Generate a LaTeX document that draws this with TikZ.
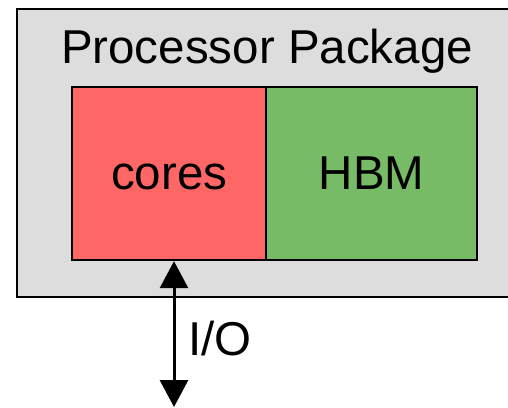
\documentclass[tikz,border=0pt]{standalone}
\usepackage{fontspec}
\setmainfont{Liberation Sans}
\usetikzlibrary{arrows.meta}
\definecolor{pkggray}{HTML}{DDDDDD}
\definecolor{corered}{HTML}{FF6666}
\definecolor{hbmgreen}{HTML}{77BB66}
\tikzset{
  bigtext/.style={font=\fontsize{47.5}{54}\selectfont, inner sep=0pt},
  block/.style={draw=black, line width=2.2pt, inner sep=0pt, anchor=north west},
  ioarrow/.style={line width=3pt, {Triangle[width=28pt,length=27pt]}-{Triangle[width=28pt,length=27pt]}}
}
\begin{document}
\begin{tikzpicture}[x=1pt,y=-1pt]
  \useasboundingbox (0,0) rectangle (508,407);
  % package outline
  \draw[fill=pkggray, line width=2pt] (17,9) rectangle (520,297);
  \node[bigtext, anchor=base] (pkglabel) at (267,63) {Processor Package};
  % cores and memory
  \node[block, fill=corered, minimum width=194pt, minimum height=173pt] (cores) at (71,86) {};
  \node[bigtext, anchor=base] (coreslabel) at (cores.center |- 0,189) {cores};
  \node[block, fill=hbmgreen, minimum width=211pt, minimum height=173pt] (hbm) at (265,86) {};
  \node[bigtext, anchor=base] (hbmlabel) at (hbm.center |- 0,189) {HBM};
  % I/O link
  \coordinate (ioend) at (174,407);
  \draw[ioarrow] (ioend |- cores.south) -- (ioend);
  \node[bigtext, anchor=base west] (iolabel) at (188,355) {I/O};
\end{tikzpicture}
\end{document}
